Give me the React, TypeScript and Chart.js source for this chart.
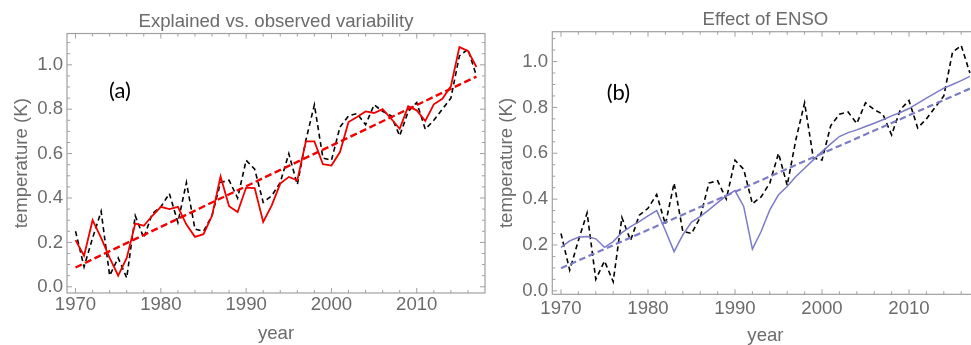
import React, { useEffect, useRef } from "react";
import { Chart, registerables } from "chart.js";

Chart.register(...registerables);

// ---------- data ----------
const years = [
  1970, 1971, 1972, 1973, 1974, 1975, 1976, 1977, 1978, 1979,
  1980, 1981, 1982, 1983, 1984, 1985, 1986, 1987, 1988, 1989,
  1990, 1991, 1992, 1993, 1994, 1995, 1996, 1997, 1998, 1999,
  2000, 2001, 2002, 2003, 2004, 2005, 2006, 2007, 2008, 2009,
  2010, 2011, 2012, 2013, 2014, 2015, 2016, 2017,
];

const observed = [
  0.25, 0.09, 0.22, 0.34, 0.05, 0.13, 0.04, 0.32, 0.22, 0.33,
  0.36, 0.42, 0.29, 0.47, 0.26, 0.25, 0.32, 0.47, 0.48, 0.40,
  0.57, 0.53, 0.38, 0.41, 0.47, 0.60, 0.46, 0.66, 0.82, 0.58,
  0.57, 0.72, 0.77, 0.78, 0.73, 0.82, 0.79, 0.77, 0.68, 0.79,
  0.83, 0.71, 0.75, 0.80, 0.85, 1.04, 1.07, 0.95,
];

const explained = [
  0.21, 0.14, 0.30, 0.22, 0.13, 0.05, 0.13, 0.285, 0.275, 0.32,
  0.36, 0.35, 0.36, 0.28, 0.225, 0.237, 0.32, 0.497, 0.363, 0.337,
  0.447, 0.445, 0.292, 0.367, 0.465, 0.495, 0.48, 0.655, 0.655, 0.552,
  0.546, 0.607, 0.742, 0.765, 0.79, 0.783, 0.80, 0.757, 0.712, 0.813,
  0.795, 0.747, 0.822, 0.847, 0.903, 1.08, 1.062, 0.99,
];

const trendYears = [1970, 2017];
const explainedTrend = [0.087, 0.947];

const ensoEffect = [
  0.19, 0.218, 0.234, 0.237, 0.227, 0.19, 0.215, 0.254, 0.28, 0.302,
  0.327, 0.35, 0.263, 0.171, 0.244, 0.30, 0.324, 0.353, 0.385, 0.414,
  0.437, 0.368, 0.182, 0.259, 0.353, 0.419, 0.455, 0.499, 0.535, 0.571,
  0.607, 0.641, 0.673, 0.69, 0.702, 0.717, 0.731, 0.746, 0.763, 0.778,
  0.795, 0.818, 0.84, 0.862, 0.884, 0.90, 0.917, 0.935,
];

const ensoTrend = [0.099, 0.882];

const xTickValues = [1970, 1980, 1990, 2000, 2010];
const yTickValues = [0.0, 0.2, 0.4, 0.6, 0.8, 1.0];

// ---------- styles ----------
const TEXT = "#6b6b6b";
const FRAME = "#a0a0a0";
const RED = "#f20000";
const BLUE = "#7b7bc8";
const FONT = "'Liberation Sans', Arial, sans-serif";
const FONT_SIZE = 18.6;

const pts = (xs: number[], ys: number[]) => xs.map((x, i) => ({ x, y: ys[i] }));

const framePlugin = {
  id: "frame",
  afterDatasetsDraw(chart: any, _args: any, opts: any) {
    const { ctx, chartArea: a, scales } = chart;
    const xs = scales.x;
    const ys = scales.y;
    ctx.save();
    ctx.strokeStyle = FRAME;
    ctx.lineWidth = 1.2;
    ctx.strokeRect(a.left, a.top, a.right - a.left, a.bottom - a.top);
    ctx.lineWidth = 1;
    ctx.beginPath();
    for (let v = 1960; v <= 2030; v += 2) {
      if (v <= xs.min || v >= xs.max) continue;
      const len = v % 10 === 0 ? 5 : 3;
      const px = xs.getPixelForValue(v);
      ctx.moveTo(px, a.bottom);
      ctx.lineTo(px, a.bottom - len);
      ctx.moveTo(px, a.top);
      ctx.lineTo(px, a.top + len);
    }
    for (let k = -2; k <= 30; k++) {
      const v = k * 0.05;
      if (v <= ys.min || v >= ys.max) continue;
      const len = k % 4 === 0 ? 5 : 3;
      const py = ys.getPixelForValue(v);
      ctx.moveTo(a.left, py);
      ctx.lineTo(a.left + len, py);
      ctx.moveTo(a.right, py);
      ctx.lineTo(a.right - len, py);
    }
    ctx.stroke();
    if (opts && opts.label) {
      ctx.fillStyle = "#000";
      ctx.font = "22px Lato, 'Open Sans', sans-serif";
      ctx.textAlign = "center";
      ctx.textBaseline = "middle";
      ctx.fillText(opts.label, xs.getPixelForValue(opts.labelX), ys.getPixelForValue(opts.labelY));
    }
    ctx.restore();
  },
};

type PanelProps = {
  left: number;
  width: number;
  height: number;
  title: string;
  titlePad: { top: number; bottom: number };
  yAxisWidth: number;
  xAxisHeight: number;
  rightPad: number;
  yMin: number;
  yMax: number;
  xTickPad: number;
  yTickPad: number;
  yTitlePad: number;
  xTitlePad: number;
  datasets: any[];
  label: string;
  labelX: number;
  labelY: number;
};

function Panel(p: PanelProps) {
  const ref = useRef<HTMLCanvasElement | null>(null);
  useEffect(() => {
    if (!ref.current) return;
    const font = { family: FONT, size: FONT_SIZE };
    const chart = new Chart(ref.current, {
      type: "line",
      data: { datasets: p.datasets },
      plugins: [framePlugin],
      options: {
        animation: false,
        responsive: false,
        devicePixelRatio: 1,
        layout: { padding: { left: 0, right: p.rightPad, top: 0, bottom: 0 } },
        plugins: {
          legend: { display: false },
          tooltip: { enabled: false },
          title: {
            display: true,
            text: p.title,
            color: TEXT,
            font: { ...font, weight: "normal" },
            padding: p.titlePad,
            fullSize: false,
          },
          frame: { label: p.label, labelX: p.labelX, labelY: p.labelY },
        } as any,
        scales: {
          x: {
            type: "linear",
            min: 1969,
            max: 2018,
            grid: { display: false, drawTicks: false },
            border: { display: false },
            afterBuildTicks: (s: any) => {
              s.ticks = xTickValues.map((v) => ({ value: v }));
            },
            afterFit: (s: any) => {
              s.height = p.xAxisHeight;
            },
            ticks: {
              color: TEXT,
              font,
              padding: p.xTickPad,
              maxRotation: 0,
              autoSkip: false,
              callback: (v: any) => String(v),
            },
            title: {
              display: true,
              text: "year",
              color: TEXT,
              font,
              padding: { top: 0, bottom: p.xTitlePad },
            },
          },
          y: {
            type: "linear",
            min: p.yMin,
            max: p.yMax,
            grid: { display: false, drawTicks: false },
            border: { display: false },
            afterBuildTicks: (s: any) => {
              s.ticks = yTickValues.map((v) => ({ value: v }));
            },
            afterFit: (s: any) => {
              s.width = p.yAxisWidth;
            },
            ticks: {
              color: TEXT,
              font,
              padding: p.yTickPad,
              autoSkip: false,
              callback: (v: any) => Number(v).toFixed(1),
            },
            title: {
              display: true,
              text: "temperature (K)",
              color: TEXT,
              font,
              padding: { top: p.yTitlePad, bottom: 0 },
            },
          },
        },
      } as any,
    });
    return () => chart.destroy();
  }, []);
  return (
    <canvas
      ref={ref}
      width={p.width}
      height={p.height}
      style={{ position: "absolute", left: p.left, top: 0, width: p.width, height: p.height }}
    />
  );
}

const observedDs = () => ({
  data: pts(years, observed),
  borderColor: "#000",
  borderWidth: 1.6,
  borderDash: [5, 3.5],
  pointRadius: 0,
  tension: 0,
  order: 3,
});

export default function App() {
  const datasetsA = [
    observedDs(),
    {
      data: pts(years, explained),
      borderColor: RED,
      borderWidth: 1.8,
      pointRadius: 0,
      tension: 0,
      order: 2,
    },
    {
      data: pts(trendYears, explainedTrend),
      borderColor: RED,
      borderWidth: 2.4,
      borderDash: [7, 3.5],
      pointRadius: 0,
      tension: 0,
      order: 1,
    },
  ];
  const datasetsB = [
    observedDs(),
    {
      data: pts(years, ensoEffect),
      borderColor: BLUE,
      borderWidth: 1.5,
      pointRadius: 0,
      tension: 0,
      order: 2,
    },
    {
      data: pts(trendYears, ensoTrend),
      borderColor: BLUE,
      borderWidth: 2.2,
      borderDash: [6.5, 3.5],
      pointRadius: 0,
      tension: 0,
      order: 1,
    },
  ];
  return (
    <div
      style={{
        position: "absolute",
        left: 0,
        top: 0,
        width: 971,
        height: 345,
        overflow: "hidden",
        background: "#fff",
      }}
    >
      <Panel
        left={0}
        width={490}
        height={345}
        title="Explained vs. observed variability"
        titlePad={{ top: 10.7, bottom: 0.5 }}
        yAxisWidth={67}
        xAxisHeight={52}
        rightPad={5}
        yMin={-0.028}
        yMax={1.141}
        xTickPad={1}
        yTickPad={4}
        yTitlePad={10.8}
        xTitlePad={0}
        datasets={datasetsA}
        label="(a)"
        labelX={1975.2}
        labelY={0.884}
      />
      <Panel
        left={485}
        width={500}
        height={348}
        title="Effect of ENSO"
        titlePad={{ top: 8.9, bottom: 0.5 }}
        yAxisWidth={67.3}
        xAxisHeight={53.7}
        rightPad={6.4}
        yMin={-0.015}
        yMax={1.13}
        xTickPad={3}
        yTickPad={4.3}
        yTitlePad={10.7}
        xTitlePad={0.5}
        datasets={datasetsB}
        label="(b)"
        labelX={1976.6}
        labelY={0.862}
      />
    </div>
  );
}
